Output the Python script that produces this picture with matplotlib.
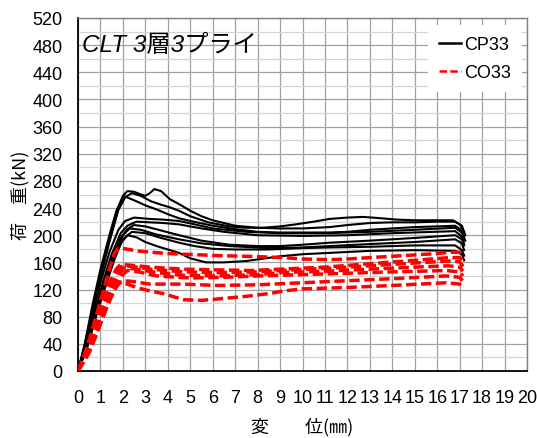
import matplotlib
matplotlib.use('Agg')
import matplotlib.pyplot as plt
from matplotlib.ticker import MultipleLocator

# ---------------- data ----------------
cp33_disp = [
    [0,0.3,0.65,1.0,1.4,1.7,2.0,2.2,2.5,2.8,3.0,3.2,3.4,3.7,4.1,4.6,5.0,5.5,6.0,7.0,8.0,9.0,10,11.2,12,13,14,15,16,16.8,17.1,17.25],
    [0,0.3,0.7,1.0,1.4,1.8,2.1,2.4,2.8,3.25,3.7,4.1,4.5,5.0,5.8,6.75,7.5,8.2,9.0,9.7,10.5,11.2,12,12.7,13.5,14.2,15,15.8,16.7,17.0,17.2],
    [0,0.35,0.7,1.0,1.4,1.8,2.1,2.6,3.0,3.5,4.0,4.5,5.0,6.0,7.0,7.5,8.0,9.0,10,11.2,12,13,14,15,16,16.8,17.05,17.2],
    [0,0.35,0.7,1.0,1.4,1.8,2.1,2.5,3.2,3.8,4.5,5.2,6.0,7.5,9.0,11,13,15,16.8,17.1,17.25],
    [0,0.4,0.8,1.1,1.5,1.9,2.2,2.6,3.2,3.8,4.5,5.5,6.5,8.0,10,12,14,16.8,17.1,17.2],
    [0,0.4,0.8,1.1,1.5,1.9,2.2,2.5,3.0,3.7,4.5,5.5,6.75,8.0,9.0,10,11.2,13,15,16.8,17.1,17.2],
    [0,0.4,0.8,1.2,1.6,2.0,2.3,2.8,3.5,4.5,5.5,6.75,8.5,10,11.2,13,15,16.8,17.1,17.2],
    [0,0.4,0.8,1.2,1.6,2.0,2.4,3.0,3.7,4.5,5.2,6.0,7.0,8.5,10,11.2,13,15,16.8,17.1,17.2],
    [0,0.4,0.8,1.2,1.6,1.9,2.2,2.6,3.0,3.5,4.0,4.5,5.0,5.7,6.5,7.5,9.0,10,11.2,13,15,16.8,17.1,17.2],
]
cp33_load = [
    [0,40,98,150,200,235,258,265,264,260,258,262,268,265,253,244,236,228,222,214,211,210,210,212,215,218,219,219,220,220,214,200],
    [0,38,98,145,196,238,256,262,258,250,245,241,236,228,219,213,211,211,213,216,220,224,226,227,225,223,222,222,222,216,205],
    [0,40,92,138,190,238,257,250,244,238,231,225,221,214,209,207,205,204,204,204,205,208,210,212,213,214,208,198],
    [0,38,88,130,175,208,221,226,224,223,221,216,210,205,203,203,205,208,211,204,192],
    [0,40,92,130,172,203,214,220,219,218,216,210,205,200,199,200,203,206,198,187],
    [0,38,88,125,165,196,209,215,213,207,200,192,186,184,184,186,189,192,196,200,194,185],
    [0,36,85,130,172,200,210,208,201,194,188,184,181,182,184,187,190,194,188,178],
    [0,35,82,125,165,194,205,203,196,189,184,180,179,179,181,182,183,185,185,178,170],
    [0,33,80,122,162,188,200,197,190,184,179,174,166,160,160,162,169,172,174,177,178,177,172,163],
]
co33_disp = [
    [0,0.4,0.8,1.1,1.4,1.6,1.8,2.1,2.6,3.25,4.0,4.7,5.5,6.2,7.5,9.2,10,11.2,12,13,14,15,16,16.6,17.0,17.2],
    [0,0.4,0.8,1.1,1.4,1.7,1.9,2.3,3.2,4.7,6.2,7.7,9.0,11,13,15,16.5,17.0,17.15],
    [0,0.45,0.9,1.2,1.5,1.8,2.0,2.4,3.2,4.7,6.2,8.0,9.0,11,13,15,16.5,17.0,17.15],
    [0,0.45,0.9,1.3,1.6,1.9,2.1,2.6,3.5,4.7,6.2,8.0,9.0,11,13,15,16.5,17.0,17.15],
    [0,0.5,1.0,1.4,1.7,2.0,2.2,2.7,3.5,5.0,6.5,8.0,10,12,14,16.4,17.0,17.15],
    [0,0.5,0.9,1.3,1.6,1.8,2.0,2.4,3.2,4.7,6.2,8.0,10,12,14,16.4,17.0,17.15],
    [0,0.5,0.9,1.2,1.5,1.7,1.9,2.2,2.6,3.2,3.8,4.2,4.7,5.5,6.2,7.5,8.5,9.2,10,12,14,16.4,17.0,17.2],
]
co33_load = [
    [0,35,80,115,150,172,181,180,177,175,173,172,171,170,169,167,165,164,165,167,169,171,173,175,175,168],
    [0,30,68,100,130,150,157,156,153,150,149,148,150,153,158,163,167,167,160],
    [0,30,70,100,128,148,155,154,150,146,145,146,148,151,155,159,162,161,154],
    [0,28,66,102,128,146,152,150,145,141,140,142,145,147,150,153,155,153,147],
    [0,30,70,104,126,142,148,146,140,137,138,140,142,144,146,148,146,140],
    [0,28,62,95,118,128,133,132,128,128,126,127,130,133,136,140,138,132],
    [0,27,60,90,113,125,131,128,123,118,114,110,105,104,106,110,114,118,121,123,126,130,128,123],
]
series_labels = ['CP33', 'CO33']
title_text = 'CLT 3層3プライ'
xlabel_text = '変　　位(㎜)'
ylabel_text = '荷　重(kN)'

# ---------------- figure ----------------
num_font = ['Liberation Sans Narrow', 'Liberation Sans', 'DejaVu Sans']
cjk_font = ['Noto Sans CJK JP', 'DejaVu Sans']

fig = plt.figure(figsize=(5.37, 4.39), dpi=100)
ax = fig.add_axes([78/537, 1-372/439, 449/537, 353/439])

for i, (xs, ys) in enumerate(zip(cp33_disp, cp33_load)):
    ax.plot(xs, ys, color='black', lw=1.5, solid_joinstyle='round',
            label=series_labels[0] if i == 0 else None, zorder=3)
for i, (xs, ys) in enumerate(zip(co33_disp, co33_load)):
    ax.plot(xs, ys, color='#ff0000', lw=2.5, dashes=(3, 1.3),
            label=series_labels[1] if i == 0 else None, zorder=4)

ax.set_xlim(0, 20)
ax.set_ylim(0, 520)
ax.xaxis.set_major_locator(MultipleLocator(1))
ax.yaxis.set_major_locator(MultipleLocator(40))
ax.yaxis.set_minor_locator(MultipleLocator(20))
ax.grid(which='major', axis='both', color='#a0a0a0', lw=0.9, zorder=0)
ax.grid(which='minor', axis='y', color='#d4d4d4', lw=0.9, zorder=0)
ax.set_axisbelow(True)
ax.tick_params(axis='x', which='both', length=0, pad=13)
ax.tick_params(axis='y', which='both', length=0, pad=11)
for lab in ax.get_xticklabels() + ax.get_yticklabels():
    lab.set_family(num_font)
    lab.set_fontsize(13)

for s in ['left', 'bottom']:
    ax.spines[s].set_color('black')
    ax.spines[s].set_linewidth(1.3)
for s in ['top', 'right']:
    ax.spines[s].set_color('#808080')
    ax.spines[s].set_linewidth(1.0)

ax.text(0.008, 0.925, title_text, transform=ax.transAxes, fontsize=17.5,
        style='italic', family=['Liberation Sans', 'Noto Sans CJK JP'],
        va='center', ha='left', zorder=6)

ax.set_xlabel(xlabel_text, family=cjk_font, fontsize=13, labelpad=8)
ax.set_ylabel(ylabel_text, family=cjk_font, fontsize=13, labelpad=2)

leg = ax.legend(loc='upper right', bbox_to_anchor=(1.0, 0.995), frameon=True,
                fancybox=False, edgecolor='none', facecolor='white', framealpha=1,
                handlelength=1.25, handletextpad=0.15, labelspacing=0.6,
                borderpad=0.6, borderaxespad=0.3, prop={'family': num_font, 'size': 13})
leg.set_zorder(10)
for h in leg.get_lines():
    h.set_linewidth(1.8)

fig.savefig('out.png', dpi=100)
